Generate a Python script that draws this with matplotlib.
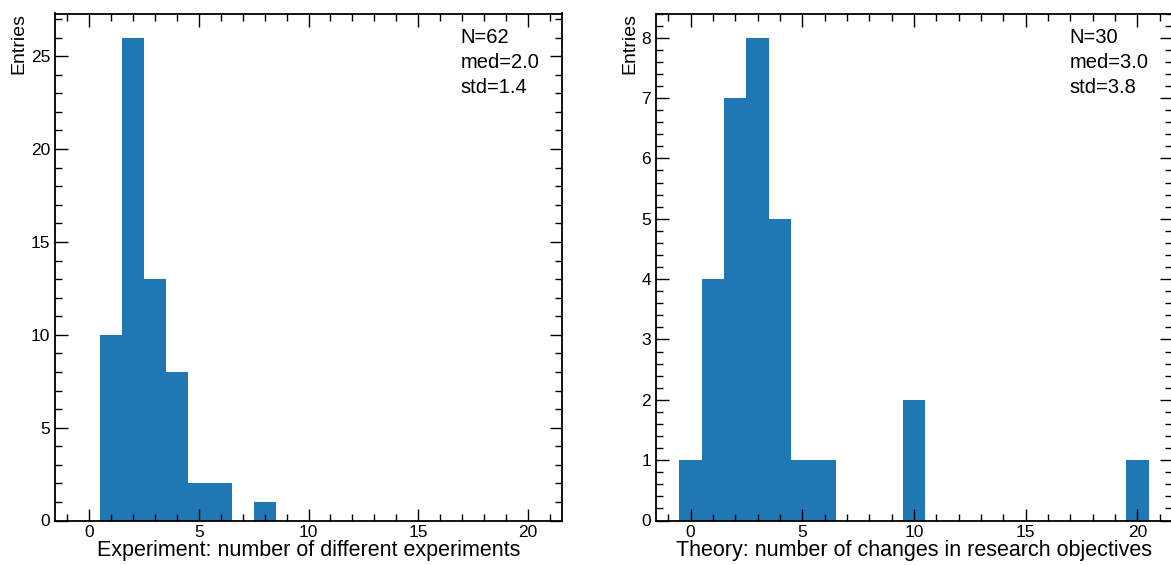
import numpy as np
import matplotlib
matplotlib.use('Agg')
import matplotlib.pyplot as plt
from matplotlib.ticker import MultipleLocator

# --- Datos (conteos) ---
exp_values = [1, 2, 3, 4, 5, 6, 8]
exp_counts = [10, 26, 13, 8, 2, 2, 1]

theo_values = [0, 1, 2, 3, 4, 5, 6, 10, 20]
theo_counts = [1, 4, 7, 8, 5, 1, 1, 2, 1]

exp_label = 'Experiment: number of different experiments'
theo_label = 'Theory: number of changes in research objectives'

plt.rcParams['font.family'] = ['Liberation Sans', 'DejaVu Sans']


def draw_hist(ax, values, counts, xlabel, ymajor, yminor, text_x):
    bins = np.arange(-0.5, 21.5, 1.0)
    ax.hist(values, bins=bins, weights=counts, color='#1f77b4')
    ax.set_xlim(-1.55, 21.55)
    ax.set_ylim(0, max(counts) * 1.05)
    ax.xaxis.set_major_locator(MultipleLocator(5))
    ax.xaxis.set_minor_locator(MultipleLocator(1))
    ax.yaxis.set_major_locator(MultipleLocator(ymajor))
    ax.yaxis.set_minor_locator(MultipleLocator(yminor))
    ax.tick_params(which='both', direction='in', top=True, right=True,
                   labelsize=12.5, width=1.0)
    ax.tick_params(which='major', length=9)
    ax.tick_params(which='minor', length=5)
    for sp in ax.spines.values():
        sp.set_linewidth(1.3)
    ax.set_xlabel(xlabel, fontsize=15.5, labelpad=0)
    ax.set_ylabel('Entries', fontsize=14, loc='top', labelpad=2)

    vals = np.repeat(values, counts)
    txt = (f'N={len(vals)}\nmed={np.median(vals):.1f}\n'
           f'std={np.std(vals, ddof=1):.1f}')
    ax.text(text_x, 0.972, txt, transform=ax.transAxes, fontsize=14.5,
            va='top', ha='left', linespacing=1.42)


W, H = 1171, 565
fig = plt.figure(figsize=(W / 100, H / 100), dpi=100)
ax1 = fig.add_axes([55 / W, (H - 520.5) / H, 507 / W, 507 / H])
ax2 = fig.add_axes([656 / W, (H - 520.5) / H, 516 / W, 507 / H])

draw_hist(ax1, exp_values, exp_counts, exp_label, 5, 1, 0.80)
draw_hist(ax2, theo_values, theo_counts, theo_label, 1, 0.2, 0.802)

fig.savefig('out.png', dpi=100)
